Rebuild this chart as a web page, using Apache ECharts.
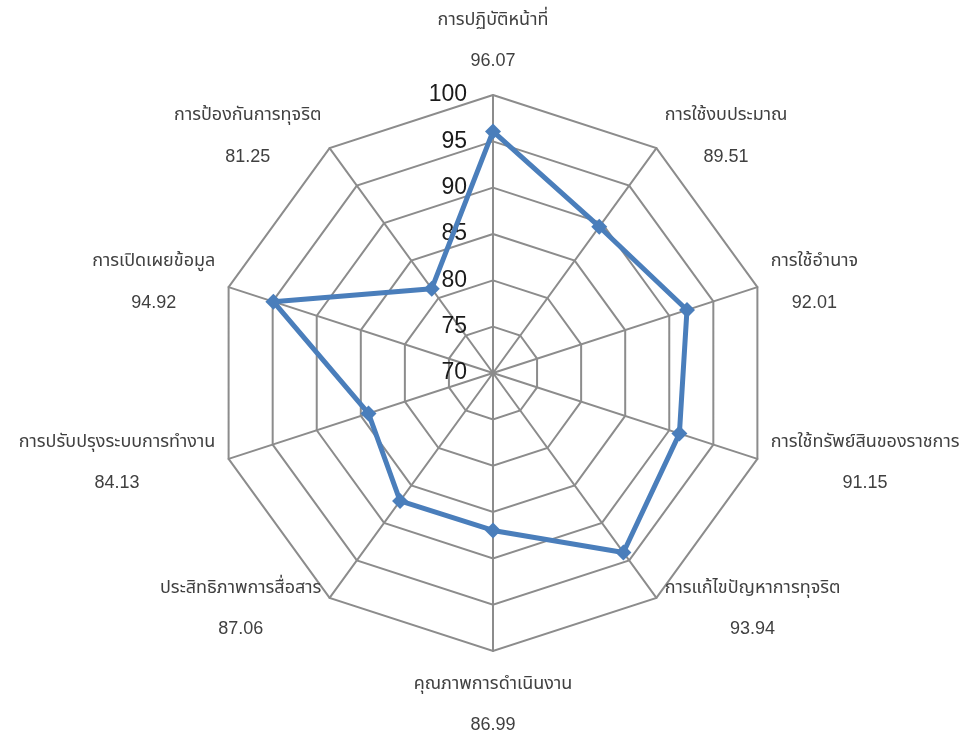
<!DOCTYPE html>
<html>
<head>
<meta charset="utf-8">
<script src="https://cdn.jsdelivr.net/npm/echarts@6/dist/echarts.min.js"></script>
<style>
html,body{margin:0;padding:0;background:#fff;}
#chart{width:968px;height:733px;}
</style>
</head>
<body>
<div id="chart"></div>
<script>
var categories = [
  'การปฏิบัติหน้าที่',
  'การใช้งบประมาณ',
  'การใช้อำนาจ',
  'การใช้ทรัพย์สินของราชการ',
  'การแก้ไขปัญหาการทุจริต',
  'คุณภาพการดำเนินงาน',
  'ประสิทธิภาพการสื่อสาร',
  'การปรับปรุงระบบการทำงาน',
  'การเปิดเผยข้อมูล',
  'การป้องกันการทุจริต'
];
var scores = [96.07, 89.51, 92.01, 91.15, 93.94, 86.99, 87.06, 84.13, 94.92, 81.25];
var axisMin = 70;
var axisMax = 100;

// ECharts radar runs counter-clockwise; reorder so categories read clockwise from top
var order = [0];
for (var k = categories.length - 1; k >= 1; k--) order.push(k);
var orderedCats = order.map(function (i) { return categories[i]; });
var orderedScores = order.map(function (i) { return scores[i]; });

var chart = echarts.init(document.getElementById('chart'));
var indicators = orderedCats.map(function (c, i) {
  var ind = { name: c, min: axisMin, max: axisMax };
  if (i === 0) ind.axisLabel = { show: true };
  return ind;
});
var labelFont = '"Noto Sans Thai", "Noto Sans", "Liberation Sans", Arial, sans-serif';
chart.setOption({
  animation: false,
  backgroundColor: '#ffffff',
  radar: {
    center: [493, 373],
    radius: 278,
    startAngle: 90,
    shape: 'polygon',
    splitNumber: 6,
    indicator: indicators,
    nameGap: 14,
    axisName: {
      formatter: function (name) {
        var idx = categories.indexOf(name);
        return '{n|' + name + '}\n{v|' + scores[idx].toFixed(2) + '}';
      },
      rich: {
        n: { fontSize: 18, color: '#404040', fontFamily: labelFont, lineHeight: 40, align: 'center' },
        v: { fontSize: 18, color: '#404040', fontFamily: 'Liberation Sans, Arial, sans-serif', lineHeight: 40, align: 'center' }
      }
    },
    axisLine: { show: true, lineStyle: { color: '#8c8c8c', width: 2 } },
    splitLine: { show: true, lineStyle: { color: '#8c8c8c', width: 2 } },
    splitArea: { show: false },
    axisTick: { show: false },
    axisLabel: {
      show: false,
      fontSize: 23,
      color: '#1a1a1a',
      fontFamily: 'Liberation Sans, Arial, sans-serif',
      margin: 26,
      showMinLabel: true,
      showMaxLabel: true
    }
  },
  series: [{
    type: 'radar',
    symbol: 'diamond',
    symbolSize: 16,
    lineStyle: { color: '#4A7EBB', width: 5 },
    itemStyle: { color: '#4A7EBB' },
    data: [{ value: orderedScores, name: 'score' }]
  }]
});
</script>
</body>
</html>
